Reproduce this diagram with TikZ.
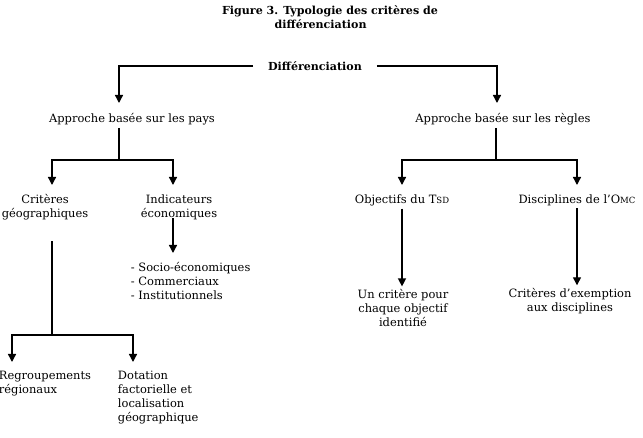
\documentclass[tikz,border=0pt]{standalone}
\usepackage{fontspec}
\setmainfont{DejaVu Serif}
\usetikzlibrary{arrows.meta}
\usetikzlibrary{calc}

\begin{document}
\begin{tikzpicture}[
    x=0.75pt, y=-0.75pt,
    every node/.style={font=\fontsize{8.6}{10.5}\selectfont, inner sep=2pt},
    lab/.style={align=center},
    titre/.style={align=center, font=\fontsize{8.3}{10.5}\selectfont\bfseries},
    arr/.style={line width=1pt, -{Triangle[width=6pt,length=6pt]}},
    trait/.style={line width=1pt}
  ]
\useasboundingbox (0,0) rectangle (643,438);
\node[titre] (title) at (330,17) {Figure 3. Typologie des critères de\\\hspace*{-14pt}différenciation};
\node[titre, inner xsep=11pt] (diff) at (315,66) {Différenciation};

\node (pays) at (132,119) {Approche basée sur les pays};
\node (regles) at (503,119) {Approche basée sur les règles};
\coordinate (pin) at (119,103); \coordinate (rin) at (497,103);
\draw[arr] (diff.west) -| (pin); \draw[arr] (diff.east) -| (rin);

% pays
\node[lab] (geo) at (45,207) {Critères\\géographiques};
\node[lab] (eco) at (179,207) {Indicateurs\\économiques};
\coordinate (pj) at (119,160); \coordinate (gin) at (52,185); \coordinate (ein) at (173,185);
\draw[trait] (pj |- pays.south) -- (pj);
\draw[arr] (pj) -| (gin); \draw[arr] (pj) -| (ein);

\node[align=left, anchor=west] (liste) at (128,281) {- Socio-économiques\\- Commerciaux\\- Institutionnels};
\coordinate (lin) at (173,253);
\draw[arr] (eco.south -| lin) ++(0,-4) -- (lin);

\node[align=left, anchor=north west] (reg) at (-4,368) {Regroupements\\régionaux};
\node[align=left, anchor=north west] (dot) at (115,368) {Dotation\\factorielle et\\localisation\\géographique};
\coordinate (gj) at (52,335); \coordinate (regin) at (12,362); \coordinate (dotin) at (133,362);
\draw[trait, shorten <=14pt] (geo.south -| gj) -- (gj);
\draw[arr] (gj) -| (regin); \draw[arr] (gj) -| (dotin);

% regles
\node (tsd) at (402,200) {Objectifs du T{\fontsize{6.4}{7}\selectfont SD}};
\node (omc) at (577,200) {Disciplines de l’O{\fontsize{6.4}{7}\selectfont MC}};
\coordinate (rj) at (496,160); \coordinate (tin) at (402,185); \coordinate (oin) at (577,185);
\draw[trait] (rj |- regles.south) -- (rj);
\draw[arr] (rj) -| (tin); \draw[arr] (rj) -| (oin);

\node[lab] (obj) at (403,308) {Un critère pour\\chaque objectif\\identifié};
\node[lab] (exe) at (570,301) {Critères d’exemption\\aux disciplines};
\draw[arr] (tsd.south) -- (tsd.south |- obj.north);
\draw[arr] (omc.south) -- (omc.south |- exe.north);
\end{tikzpicture}
\end{document}
